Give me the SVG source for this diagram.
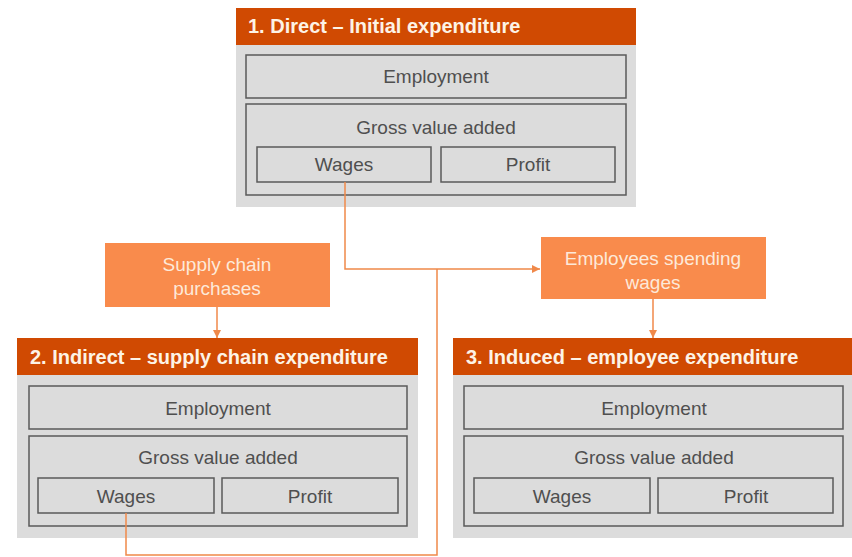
<svg xmlns="http://www.w3.org/2000/svg" width="852" height="557" viewBox="0 0 852 557">
<style>
.panel{fill:#dcdcdc}
.hdr{fill:#d04a02}
.box{fill:#dcdcdc;stroke:#5a5a5a;stroke-width:1.5}
.obox{fill:#f98b4c}
.ht{font-family:"Liberation Sans",Arial,sans-serif;font-size:20px;font-weight:bold;fill:#fdf3e6}
.t{font-family:"Liberation Sans",Arial,sans-serif;font-size:19px;fill:#4f4f4f;text-anchor:middle}
.ot{font-family:"Liberation Sans",Arial,sans-serif;font-size:19px;fill:#fde9d9;text-anchor:middle}
.c{fill:none;stroke:#f0894a;stroke-width:1.5}
</style>
<defs>
<marker id="ah" viewBox="0 0 10 10" refX="10" refY="5" markerWidth="8" markerHeight="8" markerUnits="userSpaceOnUse" orient="auto">
<path d="M0,0 L10,5 L0,10 z" fill="#f0894a"/>
</marker>
</defs>
<g id="direct">
<rect class="panel" x="236" y="8" width="400" height="199"/>
<rect class="hdr" x="236" y="8" width="400" height="37"/>
<text class="ht" x="248" y="33">1. Direct – Initial expenditure</text>
<rect class="box" x="246" y="55" width="380" height="43"/>
<text class="t" x="436" y="83">Employment</text>
<rect class="box" x="246" y="104" width="380" height="91"/>
<text class="t" x="436" y="134">Gross value added</text>
<rect class="box" x="257" y="147" width="174" height="35"/>
<text class="t" x="344" y="171">Wages</text>
<rect class="box" x="441" y="147" width="174" height="35"/>
<text class="t" x="528" y="171">Profit</text>
</g>
<g id="supply">
<rect class="obox" x="105" y="243" width="225" height="64"/>
<text class="ot" x="217" y="271">Supply chain</text>
<text class="ot" x="217" y="295">purchases</text>
</g>
<g id="employees">
<rect class="obox" x="541" y="237" width="225" height="62"/>
<text class="ot" x="653" y="265">Employees spending</text>
<text class="ot" x="653" y="289">wages</text>
</g>
<g id="indirect">
<rect class="panel" x="17" y="338" width="401" height="200"/>
<rect class="hdr" x="17" y="338" width="401" height="37"/>
<text class="ht" x="30" y="364">2. Indirect – supply chain expenditure</text>
<rect class="box" x="29" y="386" width="378" height="43"/>
<text class="t" x="218" y="415">Employment</text>
<rect class="box" x="29" y="436" width="378" height="90"/>
<text class="t" x="218" y="464">Gross value added</text>
<rect class="box" x="38" y="478" width="176" height="35"/>
<text class="t" x="126" y="503">Wages</text>
<rect class="box" x="222" y="478" width="176" height="35"/>
<text class="t" x="310" y="503">Profit</text>
</g>
<g id="induced">
<rect class="panel" x="453" y="338" width="399" height="200"/>
<rect class="hdr" x="453" y="338" width="399" height="37"/>
<text class="ht" x="466" y="364">3. Induced – employee expenditure</text>
<rect class="box" x="464" y="386" width="379" height="43"/>
<text class="t" x="654" y="415">Employment</text>
<rect class="box" x="464" y="436" width="379" height="90"/>
<text class="t" x="654" y="464">Gross value added</text>
<rect class="box" x="474" y="478" width="176" height="35"/>
<text class="t" x="562" y="503">Wages</text>
<rect class="box" x="658" y="478" width="175" height="35"/>
<text class="t" x="746" y="503">Profit</text>
</g>
<g id="connectors">
<path class="c" d="M345,182 V269 H540" marker-end="url(#ah)"/>
<path class="c" d="M126,513 V555 H437 V269"/>
<path class="c" d="M217,307 V338" marker-end="url(#ah)"/>
<path class="c" d="M653,299 V338" marker-end="url(#ah)"/>
</g>
</svg>
